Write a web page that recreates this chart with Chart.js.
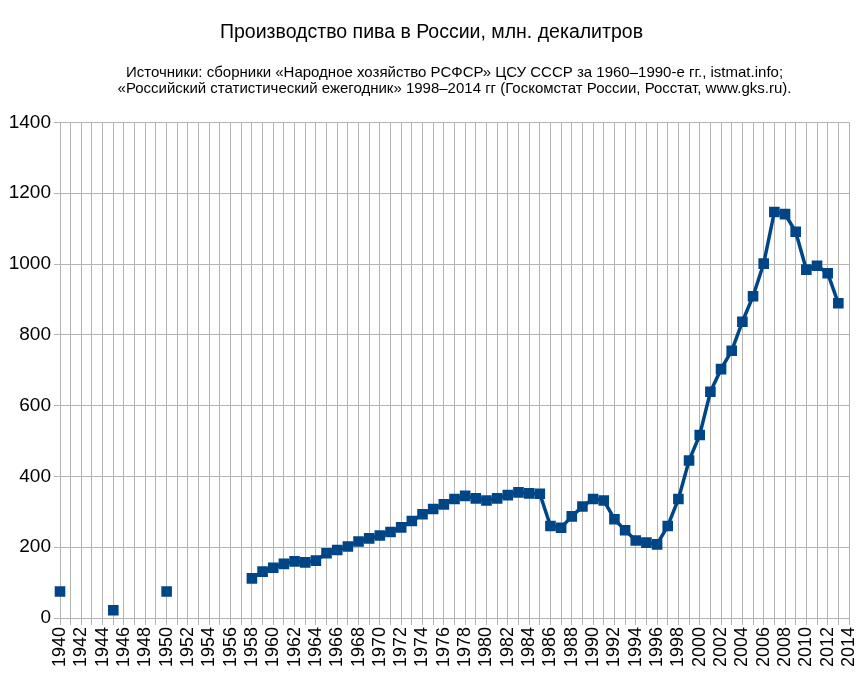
<!DOCTYPE html>
<html>
<head>
<meta charset="utf-8">
<script src="https://cdn.jsdelivr.net/npm/chart.js@4"></script>
<style>
  html, body { margin: 0; padding: 0; background: #fff; }
  #wrap { width: 866px; height: 685px; }
</style>
</head>
<body>
<div id="wrap"><canvas id="chart" width="866" height="685"></canvas></div>
<script>
(() => {
  "use strict";

  // Data: years 1940..2014, null where no value
  const years = [];
  for (let y = 1940; y <= 2014; y++) years.push(String(y));

  const earlyYears = [1940, 1945, 1950];
  const earlyValues = [75, 22, 75];

  const mainYears = [
    1958, 1959, 1960, 1961, 1962, 1963, 1964, 1965, 1966, 1967,
    1968, 1969, 1970, 1971, 1972, 1973, 1974, 1975, 1976, 1977,
    1978, 1979, 1980, 1981, 1982, 1983, 1984, 1985, 1986, 1987,
    1988, 1989, 1990, 1991, 1992, 1993, 1994, 1995, 1996, 1997,
    1998, 1999, 2000, 2001, 2002, 2003, 2004, 2005, 2006, 2007,
    2008, 2009, 2010, 2011, 2012, 2013
  ];
  const mainValues = [
    112, 131, 142, 153, 160, 157, 162, 183, 192, 202,
    216, 225, 233, 243, 256, 274, 293, 308, 321, 336,
    345, 338, 332, 338, 347, 355, 352, 351, 260, 255,
    287, 315, 336, 332, 279, 248, 219, 213, 208, 260,
    336, 445, 517, 639, 703, 755, 837, 909, 1001, 1147,
    1141, 1091, 984, 995, 974, 889
  ];

  const yTicks = [0, 200, 400, 600, 800, 1000, 1200, 1400];

  const values = years.map(() => null);
  earlyYears.forEach((y, i) => values[y - 1940] = earlyValues[i]);
  mainYears.forEach((y, i) => values[y - 1940] = mainValues[i]);

  const blue = "#004586";
  const grid = "#b3b3b3";
  const font = "'Liberation Sans', Arial, sans-serif";

  new Chart(document.querySelector("#chart"), {
    type: "line",
    data: {
      labels: years,
      datasets: [{
        data: values,
        borderColor: blue,
        backgroundColor: blue,
        borderWidth: 3.5,
        pointStyle: "rect",
        pointRadius: 7.5,
        pointBorderWidth: 0,
        spanGaps: false,
        tension: 0
      }]
    },
    options: {
      responsive: false,
      animation: false,
      layout: { padding: { left: 0, right: 3, top: 0, bottom: 0 } },
      plugins: {
        legend: { display: false },
        tooltip: { enabled: false },
        title: {
          display: true,
          text: "Производство пива в России, млн. декалитров",
          color: "#000",
          font: { family: font, size: 19.5, weight: "normal" },
          padding: { top: 21, bottom: 12 }
        },
        subtitle: {
          display: true,
          fullSize: false,
          text: [
            "Источники: сборники «Народное хозяйство РСФСР» ЦСУ СССР за 1960–1990-е гг., istmat.info;",
            "«Российский статистический ежегодник» 1998–2014 гг (Госкомстат России, Росстат, www.gks.ru)."
          ],
          color: "#000",
          font: { family: font, size: 15, weight: "normal", lineHeight: 1.1 },
          padding: { top: 8, bottom: 25 }
        }
      },
      scales: {
        x: {
          type: "category",
          offset: false,
          grid: { color: grid, lineWidth: 1, tickLength: 7 },
          border: { color: grid },
          ticks: {
            autoSkip: false,
            minRotation: 90,
            maxRotation: 90,
            color: "#000",
            font: { family: font, size: 18 },
            padding: 2,
            callback: (v, i) => (i % 2 === 0 ? years[i] : "")
          },
          afterFit: (s) => {
            s.height = 67;
            s.paddingLeft = 0;
            s.paddingRight = 17;
          }
        },
        y: {
          min: 0,
          max: 1400,
          afterBuildTicks: (s) => { s.ticks = yTicks.map(v => ({ value: v })); },
          grid: { color: grid, lineWidth: 1, tickLength: 6 },
          border: { color: grid },
          ticks: {
            color: "#000",
            font: { family: font, size: 19 },
            padding: 3,
            callback: (v) => String(v)
          },
          afterFit: (s) => { s.width = 60; }
        }
      }
    }
  });
})();
</script>
</body>
</html>
